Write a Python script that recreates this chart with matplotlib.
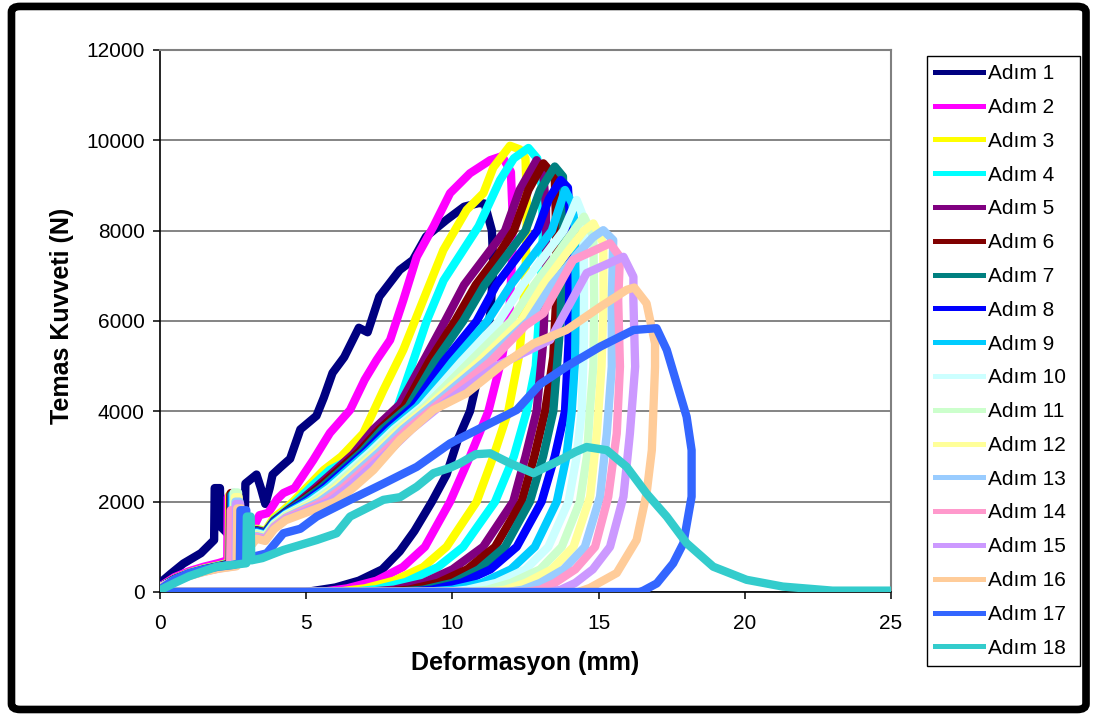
import matplotlib
matplotlib.use("Agg")
import matplotlib.pyplot as plt
from matplotlib.patches import FancyBboxPatch

plt.rcParams['font.family'] = ['Liberation Sans', 'DejaVu Sans']

# (deformation mm, force N), loading branch then unloading branch
adim1 = [(0, 200), (0.4, 420), (0.8, 630), (1.4, 860), (1.85, 1150), (1.87, 2300), (2.05, 2300),
         (2.07, 1450), (2.3, 1300), (2.6, 1450), (2.9, 1600), (2.92, 2400), (3.3, 2600), (3.45, 2300),
         (3.6, 1950), (3.75, 2300), (3.85, 2600), (4.1, 2750), (4.45, 2950), (4.8, 3600), (5.35, 3900),
         (5.6, 4300), (5.9, 4850), (6.3, 5200), (6.8, 5850), (7.1, 5750), (7.5, 6540), (8.2, 7130),
         (8.65, 7350), (9.1, 7870), (9.8, 8240), (10.4, 8530), (10.9, 8610), (11.1, 8600),
         (11.35, 8000), (11.4, 7200), (11.3, 6200), (11.1, 5300), (10.85, 4700), (10.6, 4000),
         (10.2, 3400), (9.8, 2600), (9.3, 2000), (8.7, 1350), (8.2, 900), (7.6, 500), (6.8, 250),
         (6.0, 100), (5.3, 30), (5.0, 0), (0, 0)]
adim2 = [(0, 120), (0.5, 330), (1.0, 460), (1.5, 560), (2.0, 640), (2.3, 700), (2.32, 2100), (2.45, 2100),
         (2.47, 1100), (2.8, 1150), (3.1, 1300), (3.4, 1700), (3.7, 1750), (4.0, 2050), (4.22, 2190),
         (4.6, 2300), (5.24, 2920), (5.6, 3300), (5.81, 3520), (6.5, 4030), (7.0, 4700), (7.41, 5140),
         (7.87, 5580), (8.32, 6460), (8.78, 7420), (9.35, 8090), (9.92, 8830), (10.6, 9270), (11.29, 9560),
         (11.7, 9650),
         (12.0, 9300), (12.05, 8500), (12.05, 7500), (11.95, 6200), (11.7, 5200), (11.23, 4000),
         (10.6, 3000), (9.92, 2000), (9.06, 1000), (8.3, 550), (7.4, 250), (6.4, 80), (5.5, 0), (0, 0)]
adim3 = [(0, 100), (0.5, 300), (1.0, 430), (1.5, 520), (2.0, 590), (2.35, 650), (2.37, 2150), (2.5, 2150),
         (2.52, 950), (2.9, 1050), (3.3, 1400), (3.6, 1350), (3.9, 1650), (4.2, 1800), (4.55, 2000),
         (5.0, 2300), (5.6, 2700), (6.2, 3000), (6.95, 3510), (7.64, 4470), (8.32, 5360), (9.0, 6460),
         (9.69, 7570), (10.49, 8460), (11.06, 8830), (11.4, 9400), (11.97, 9880), (12.3, 9800),
         (12.5, 9600), (12.55, 8500), (12.5, 7000), (12.3, 5300), (11.91, 4000), (11.4, 3000),
         (10.83, 2000), (9.8, 1000), (9.0, 550), (8.0, 250), (7.0, 80), (6.0, 0), (0, 0)]
adim4 = [(0, 100), (0.5, 290), (1.0, 420), (1.5, 510), (2.0, 580), (2.38, 640), (2.4, 2150), (2.52, 2150),
         (2.54, 930), (2.9, 1030), (3.3, 1380), (3.6, 1330), (3.9, 1600), (4.3, 1800), (4.65, 2000),
         (5.2, 2350), (5.8, 2700), (6.7, 3000), (7.3, 3500), (8.09, 4030), (8.6, 5000), (9.12, 6000),
         (9.7, 6900), (10.3, 7500), (10.9, 8100), (11.63, 9120), (12.1, 9600), (12.6, 9830),
         (12.9, 9600), (13.05, 9000), (13.1, 8000), (13.0, 6500), (12.85, 5000), (12.54, 4000),
         (12.1, 3000), (11.46, 2000), (10.37, 1000), (9.5, 550), (8.4, 220), (7.4, 60), (6.5, 0), (0, 0)]
adim5 = [(0, 100), (0.5, 290), (1.0, 410), (1.5, 500), (2.0, 570), (2.38, 630), (2.4, 2150), (2.53, 2150),
         (2.55, 920), (2.9, 1020), (3.3, 1370), (3.6, 1320), (3.9, 1580), (4.3, 1780), (4.75, 2000),
         (5.3, 2300), (6.0, 2700), (6.6, 3050), (7.3, 3600), (8.2, 4150), (9.0, 5100), (9.75, 6000),
         (10.4, 6800), (11.1, 7400), (11.8, 8000), (12.3, 8900), (12.88, 9560),
         (13.1, 9300), (13.2, 8500), (13.2, 7000), (13.1, 5500), (12.88, 4000), (12.5, 3000),
         (12.08, 2000), (11.05, 1000), (10.0, 500), (9.0, 200), (8.0, 50), (7.0, 0), (0, 0)]
adim6 = [(0, 100), (0.5, 285), (1.0, 405), (1.5, 495), (2.0, 565), (2.4, 625), (2.42, 2190), (2.55, 2190),
         (2.57, 910), (2.9, 1010), (3.3, 1360), (3.6, 1310), (3.9, 1570), (4.3, 1770), (4.8, 2000),
         (5.4, 2300), (6.1, 2700), (6.8, 3100), (7.5, 3600), (8.35, 4100), (9.2, 5100), (10.09, 6000),
         (10.8, 6800), (11.5, 7400), (12.1, 8000), (12.6, 8900), (13.11, 9490),
         (13.5, 9200), (13.55, 8000), (13.55, 6500), (13.45, 5200), (13.17, 4000), (12.8, 3000),
         (12.37, 2000), (11.46, 1000), (10.5, 500), (9.5, 200), (8.5, 50), (7.5, 0), (0, 0)]
adim7 = [(0, 100), (0.5, 280), (1.0, 400), (1.5, 490), (2.0, 560), (2.42, 620), (2.44, 2150), (2.57, 2150),
         (2.59, 900), (2.9, 1000), (3.3, 1350), (3.6, 1300), (3.9, 1560), (4.3, 1760), (4.85, 2000),
         (5.5, 2300), (6.2, 2700), (6.9, 3100), (7.6, 3600), (8.5, 4100), (9.4, 5100), (10.37, 6000),
         (11.1, 6800), (11.8, 7400), (12.5, 8000), (13.0, 8900), (13.5, 9420),
         (13.78, 9200), (13.8, 8700), (13.75, 7500), (13.7, 6000), (13.45, 4000), (13.1, 3000),
         (12.65, 2000), (11.8, 1000), (10.9, 500), (10.0, 200), (9.0, 50), (8.0, 0), (0, 0)]
adim8 = [(0, 100), (0.5, 275), (1.0, 395), (1.5, 485), (2.0, 555), (2.44, 615), (2.46, 2100), (2.59, 2100),
         (2.61, 890), (2.9, 990), (3.3, 1340), (3.6, 1290), (3.9, 1550), (4.3, 1750), (4.95, 2000),
         (5.6, 2300), (6.3, 2700), (7.0, 3100), (7.75, 3600), (8.65, 4100), (9.7, 5100), (10.83, 6000),
         (11.5, 6800), (12.2, 7400), (12.9, 8000), (13.3, 8700), (13.7, 9120),
         (13.95, 8950), (14.02, 8300), (14.0, 7000), (13.97, 5500), (13.85, 4000), (13.5, 3000),
         (13.05, 2000), (12.2, 1000), (11.3, 500), (10.3, 200), (9.3, 50), (8.5, 0), (0, 0)]
adim9 = [(0, 100), (0.5, 270), (1.0, 390), (1.5, 480), (2.0, 550), (2.46, 610), (2.48, 2150), (2.61, 2150),
         (2.63, 870), (2.9, 970), (3.3, 1320), (3.6, 1270), (3.9, 1530), (4.3, 1730), (5.05, 2000),
         (5.7, 2300), (6.4, 2700), (7.1, 3100), (7.9, 3600), (8.8, 4100), (10.0, 5100), (11.2, 6000),
         (12.0, 6800), (12.7, 7400), (13.4, 8000), (13.85, 8900),
         (14.1, 8600), (14.2, 8000), (14.22, 6500), (14.2, 5200), (14.08, 4000), (13.9, 3000),
         (13.57, 2000), (12.82, 1000), (12.0, 500), (11.0, 200), (10.0, 50), (9.0, 0), (0, 0)]
adim10 = [(0, 100), (0.5, 265), (1.0, 385), (1.5, 475), (2.0, 545), (2.5, 605), (2.52, 2200), (2.65, 2200),
          (2.67, 860), (2.95, 950), (3.3, 1300), (3.6, 1250), (3.9, 1510), (4.3, 1710), (5.15, 2000),
          (5.8, 2300), (6.5, 2700), (7.2, 3100), (8.0, 3600), (8.95, 4100), (10.3, 5100), (11.6, 6000),
          (12.4, 6800), (13.1, 7400), (13.8, 8000), (14.25, 8680),
          (14.48, 8300), (14.5, 7000), (14.5, 5500), (14.42, 4000), (14.25, 3000), (13.97, 2000),
          (13.28, 1000), (12.5, 500), (11.5, 200), (10.5, 50), (9.8, 0), (0, 0)]
adim11 = [(0, 100), (0.5, 260), (1.0, 380), (1.5, 470), (2.0, 540), (2.52, 600), (2.54, 2200), (2.67, 2200),
          (2.69, 850), (2.95, 940), (3.3, 1280), (3.6, 1230), (3.9, 1490), (4.3, 1690), (5.25, 2000),
          (5.9, 2300), (6.6, 2700), (7.3, 3100), (8.1, 3600), (9.05, 4100), (10.6, 5100), (12.0, 6000),
          (12.8, 6800), (13.6, 7500), (14.15, 8000), (14.5, 8310),
          (14.82, 7860), (14.85, 6500), (14.82, 5000), (14.7, 4000), (14.6, 3000), (14.36, 2000),
          (13.74, 1000), (13.0, 500), (12.0, 200), (11.2, 50), (10.5, 0), (0, 0)]
adim12 = [(0, 100), (0.5, 255), (1.0, 375), (1.5, 465), (2.0, 535), (2.54, 595), (2.56, 2100), (2.69, 2100),
          (2.71, 840), (2.95, 930), (3.3, 1260), (3.6, 1210), (3.9, 1470), (4.3, 1670), (5.35, 2000),
          (6.0, 2300), (6.7, 2700), (7.4, 3100), (8.2, 3600), (9.15, 4100), (10.9, 5100), (12.35, 6000),
          (13.1, 6800), (13.9, 7500), (14.5, 8000), (14.82, 8160),
          (15.16, 7720), (15.17, 6460), (15.1, 4990), (14.94, 3510), (14.71, 2110), (14.14, 1000),
          (13.4, 500), (12.5, 200), (11.8, 50), (11.2, 0), (0, 0)]
adim13 = [(0, 100), (0.5, 250), (1.0, 370), (1.5, 460), (2.0, 530), (2.56, 590), (2.58, 2000), (2.72, 2000),
          (2.74, 830), (2.95, 920), (3.3, 1240), (3.6, 1190), (3.9, 1450), (4.3, 1650), (5.45, 2000),
          (6.1, 2300), (6.8, 2700), (7.5, 3100), (8.3, 3600), (9.25, 4100), (11.1, 5100), (12.6, 6000),
          (13.4, 6800), (14.3, 7500), (14.8, 7850), (15.16, 8010),
          (15.5, 7790), (15.45, 6460), (15.45, 4990), (15.28, 3510), (15.05, 2110), (14.53, 1000),
          (13.8, 500), (13.0, 200), (12.4, 50), (11.9, 0), (0, 0)]
adim14 = [(0, 100), (0.5, 245), (1.0, 365), (1.5, 455), (2.0, 525), (2.4, 580), (2.42, 1810), (2.56, 1810),
          (2.58, 820), (2.95, 910), (3.3, 1220), (3.6, 1170), (3.9, 1430), (4.3, 1630), (5.6, 2000),
          (6.25, 2300), (6.95, 2700), (7.65, 3100), (8.45, 3600), (9.4, 4100), (11.3, 5100), (12.5, 5900),
          (13.11, 6170), (14.13, 7350), (15.39, 7720),
          (15.73, 7420), (15.67, 6460), (15.73, 4990), (15.62, 3510), (15.33, 2110), (14.88, 1000),
          (14.2, 500), (13.5, 200), (13.0, 50), (12.5, 0), (0, 0)]
adim15 = [(0, 100), (0.5, 240), (1.0, 360), (1.5, 450), (2.0, 520), (2.58, 575), (2.6, 1950), (2.74, 1950),
          (2.76, 810), (2.95, 900), (3.3, 1200), (3.6, 1150), (3.9, 1410), (4.3, 1610), (5.8, 2000),
          (6.4, 2300), (7.1, 2700), (7.8, 3100), (8.6, 3600), (9.55, 4100), (11.5, 5000), (13.34, 5580),
          (14.59, 7060), (15.85, 7420),
          (16.19, 6980), (16.19, 6460), (16.25, 4990), (16.07, 3510), (15.85, 2110), (15.39, 1000),
          (14.8, 500), (14.2, 200), (13.7, 50), (13.3, 0), (0, 0)]
adim16 = [(0, 100), (0.5, 235), (1.0, 355), (1.5, 445), (2.0, 515), (2.62, 570), (2.64, 1850), (2.78, 1850),
          (2.8, 800), (2.95, 890), (3.3, 1180), (3.6, 1130), (3.9, 1390), (4.3, 1590), (6.0, 2000),
          (6.6, 2300), (7.3, 2700), (8.21, 3370), (9.35, 4030), (10.49, 4400), (11.63, 4990),
          (12.77, 5500), (13.9, 5800), (15.05, 6310), (15.96, 6690), (16.22, 6740),
          (16.64, 6390), (16.93, 5500), (16.93, 4990), (16.82, 3140), (16.64, 2180), (16.3, 1150),
          (15.62, 420), (14.7, 90), (14.3, 0), (0, 0)]
adim17 = [(0, 60), (0.5, 280), (1.0, 420), (1.5, 500), (2.0, 560), (2.5, 600), (2.73, 640), (2.75, 1810),
          (2.95, 1810), (2.97, 760), (3.3, 800), (3.65, 856), (4.22, 1300), (4.8, 1400), (5.36, 1670),
          (6.5, 2040), (7.64, 2400), (8.78, 2770), (9.92, 3290), (11.06, 3660), (12.2, 4030), (13.0, 4600),
          (13.9, 4990), (15.05, 5430), (16.19, 5800), (16.98, 5840),
          (17.33, 5360), (17.67, 4620), (18.01, 3880), (18.18, 3140), (18.18, 2110), (17.9, 1080),
          (17.55, 635), (16.99, 190), (16.53, 30), (16.4, 0), (0, 0)]
adim18 = [(0, 40), (0.5, 200), (1.0, 350), (1.94, 560), (2.5, 600), (2.95, 635), (2.97, 1670), (3.1, 1670),
          (3.12, 700), (3.5, 750), (4.22, 930), (5.36, 1150), (6.04, 1300), (6.5, 1670), (7.64, 2040),
          (8.21, 2100), (8.78, 2330), (9.35, 2630), (9.92, 2750), (10.26, 2850), (10.8, 3050), (11.29, 3070),
          (11.97, 2850), (12.77, 2630), (13.68, 2920), (14.2, 3100), (14.59, 3210), (15.28, 3140),
          (15.96, 2770), (16.64, 2180), (17.33, 1670), (18.01, 1080), (18.92, 560), (20.06, 270),
          (21.3, 120), (23.0, 30), (25.0, 30)]

steps = [adim1, adim2, adim3, adim4, adim5, adim6, adim7, adim8, adim9,
         adim10, adim11, adim12, adim13, adim14, adim15, adim16, adim17, adim18]
step_labels = ["Adım %d" % i for i in range(1, 19)]
step_colors = ['#000080', '#FF00FF', '#FFFF00', '#00FFFF', '#800080', '#800000',
               '#008080', '#0000FF', '#00CCFF', '#CCFFFF', '#CCFFCC', '#FFFF99',
               '#99CCFF', '#FF99CC', '#CC99FF', '#FFCC99', '#3366FF', '#33CCCC']
x_ticks = [0, 5, 10, 15, 20, 25]
y_ticks = [0, 2000, 4000, 6000, 8000, 10000, 12000]

fig = plt.figure(figsize=(10.93, 7.16), dpi=100)
ax = fig.add_axes([0.1464, 0.1732, 0.6688, 0.757])

for pts, color, label in zip(steps, step_colors, step_labels):
    xs = [p[0] for p in pts]
    ys = [p[1] for p in pts]
    ax.plot(xs, ys, color=color, lw=6, label=label, solid_joinstyle='round', zorder=3)

ax.set_xlim(0, 25)
ax.set_ylim(0, 12000)
ax.set_xticks(x_ticks)
ax.set_yticks(y_ticks)
ax.yaxis.grid(True, color='#707070', lw=1.2)
ax.set_axisbelow(True)

for side in ['left', 'bottom']:
    ax.spines[side].set_color('black')
    ax.spines[side].set_linewidth(1.2)
for side in ['top', 'right']:
    ax.spines[side].set_color('#808080')
    ax.spines[side].set_linewidth(1.5)

ax.tick_params(axis='both', direction='out', length=5, width=1.1, labelsize=15)
ax.tick_params(axis='y', pad=6)
ax.tick_params(axis='x', pad=11)

ax.set_xlabel("Deformasyon (mm)", fontsize=18, fontweight='bold', va='center')
ax.set_ylabel("Temas Kuvveti (N)", fontsize=18, fontweight='bold', va='center')
ax.xaxis.set_label_coords(0.4993, -0.131)
ax.yaxis.set_label_coords(-0.134, 0.51)

leg = ax.legend(loc='upper left', bbox_to_anchor=(0.848, 0.922, 0.140, 0.0),
                bbox_transform=fig.transFigure, mode='expand', fontsize=15,
                frameon=True, fancybox=False, edgecolor='black', framealpha=1,
                handlelength=2.3, handletextpad=0.25, labelspacing=0.71,
                borderpad=0.4, borderaxespad=0)
leg.get_frame().set_linewidth(1.0)
for line in leg.get_lines():
    line.set_linewidth(3.6)

# thick rounded outer frame of the chart
frame = FancyBboxPatch((0.0105, 0.0091), 0.9831, 0.9819,
                       boxstyle='round,pad=0,rounding_size=0.008',
                       transform=fig.transFigure, fill=False,
                       edgecolor='black', linewidth=5.5)
fig.patches.append(frame)

plt.savefig('out.png', dpi=100)
